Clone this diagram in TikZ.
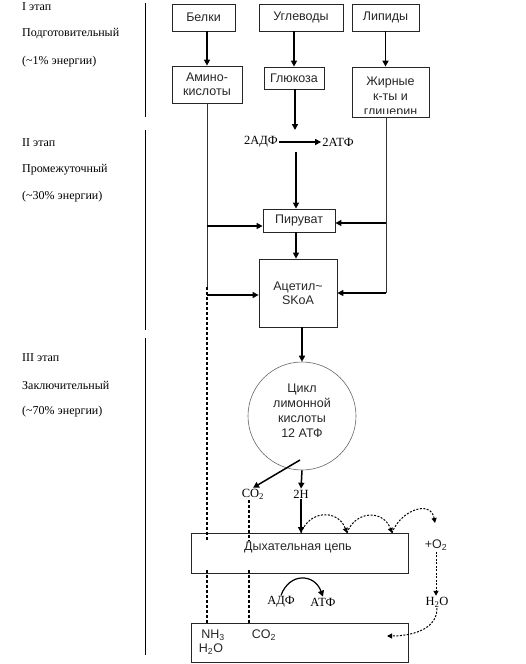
\documentclass[tikz,border=0pt]{standalone}
\usepackage{fontspec}
\setmainfont{Liberation Serif}
\setsansfont{Liberation Sans}
\usetikzlibrary{arrows.meta}

\begin{document}
\begin{tikzpicture}[x=1pt, y=1pt,
    box/.style={rectangle, draw=black!85, line width=0.8pt, inner sep=0pt},
    sans/.style={font=\sffamily\fontsize{12.5}{14}\selectfont, text=black!85, align=center, inner sep=1pt},
    stage/.style={anchor=west, font=\fontsize{12}{14}\selectfont, inner sep=0pt},
    chem/.style={font=\fontsize{12.5}{14}\selectfont, inner sep=1pt},
    arr/.style={-{Triangle[length=6pt,width=6pt]}, line width=1.5pt},
    link/.style={line width=0.6pt, black!80},
    dots/.style={dash pattern=on 3pt off 2pt, line width=1.2pt},
    hop/.style={-{Triangle[length=5pt,width=5pt]}, dash pattern=on 2pt off 1.5pt, line width=1pt}]

    \useasboundingbox (0,0) rectangle (526,-664);

    \node(stage1-1)[stage] at (22,-7) {I этап};
    \node(stage1-2)[stage] at (22,-34) {Подготовительный};
    \node(stage1-3)[stage] at (22,-62) {(\textasciitilde1\% энергии)};
    \node(stage2-1)[stage] at (22,-143) {II этап};
    \node(stage2-2)[stage] at (22,-170) {Промежуточный};
    \node(stage2-3)[stage] at (22,-197) {(\textasciitilde30\% энергии)};
    \node(stage3-1)[stage] at (22,-358) {III этап};
    \node(stage3-2)[stage] at (22,-385) {Заключительный};
    \node(stage3-3)[stage] at (22,-412) {(\textasciitilde70\% энергии)};

    \draw[line width=0.9pt] (145,-3) -- (145,-117);
    \draw[line width=0.9pt] (145,-130) -- (145,-330);
    \draw[line width=0.9pt] (145,-338) -- (145,-655);

    \node(belki)[box, sans, minimum width=63, minimum height=27] at (203.5,-17.5) {Белки};
    \node(uglevody)[box, sans, minimum width=84, minimum height=27] at (301,-17.5) {Углеводы};
    \node(lipidy)[box, sans, minimum width=67, minimum height=27] at (385.5,-17.5) {Липиды};

    \node(amino)[box, sans, minimum width=70, minimum height=37] at (207,-84.5) {Амино-\\кислоты};
    \node(glukoza)[box, sans, minimum width=60, minimum height=22] at (294,-78) {Глюкоза};
    \node(zhirnye)[box, minimum width=77, minimum height=50,
        path picture={\clip ([yshift=4]path picture bounding box.south west) rectangle (path picture bounding box.north east);
            \node[sans, font=\sffamily\fontsize{12.5}{15}\selectfont] at ([yshift=-5]path picture bounding box.center) {Жирные\\к-ты и\\глицерин};}]
        at (390.5,-92) {};

    \node(adf2)[chem] at (261,-142) {2АДФ};
    \node(atf2)[chem] at (338,-142) {2АТФ};

    \node(piruvat)[box, sans, minimum width=72, minimum height=23] at (299,-220.5) {Пируват};
    \node(acetil)[box, sans, minimum width=78, minimum height=68] at (298,-293) {Ацетил\textasciitilde\\SKoA};

    \node(cikl)[circle, draw=black!60, line width=0.6pt, minimum size=108] at (302,-416) {};
    \node(cikl-txt)[sans, font=\sffamily\fontsize{12.5}{15}\selectfont] at (302,-410.5) {Цикл\\лимонной\\кислоты\\12 АТФ};

    \node(co2)[chem] at (253,-494) {CO\textsubscript{2}};
    \node(h2)[chem] at (301,-494) {2H};

    \node(dc)[box, minimum width=217, minimum height=40] at (299.5,-553) {};
    \node(dc-txt)[sans] at (298,-547) {Дыхательная цепь};
    \node(o2)[sans] at (436,-545) {+O\textsubscript{2}};
    \node(h2o)[chem] at (437,-602) {H\textsubscript{2}O};
    \node(adf)[chem] at (281,-602) {АДФ};
    \node(atf)[chem] at (323,-602) {АТФ};

    \node(bot)[box, minimum width=217, minimum height=39] at (299.5,-642.5) {};
    \node(nh3)[sans] at (213,-635) {NH\textsubscript{3}};
    \node(h2o-b)[sans] at (211,-649) {H\textsubscript{2}O};
    \node(co2-b)[sans] at (264,-635) {CO\textsubscript{2}};

    \coordinate(glik-in) at (295,-130);
    \coordinate(glik-out) at (296,-152);
    \coordinate(amino-end) at (207,-287);
    \coordinate(zh-end) at (386,-293);
    \coordinate(piruvat-l) at ([yshift=-5.5]piruvat.west);
    \coordinate(piruvat-r) at ([yshift=-2.5]piruvat.east);
    \coordinate(acetil-l) at ([yshift=-2]acetil.west);
    \coordinate(cikl-out) at (300,-460);
    \coordinate(hop-1) at (301,-533);
    \coordinate(hop-2) at (347,-533);
    \coordinate(hop-3) at (392,-533);
    \coordinate(hop-4) at (435,-523);
    \coordinate(bot-in) at (387,-636);
    \coordinate(nh3-a) at (207,-541);
    \coordinate(nh3-b) at (207,-570);
    \coordinate(co2-a) at (249,-541);
    \coordinate(co2-b) at (249,-570);

    \draw[arr] (belki.south -| amino.north) -- (amino.north);
    \draw[arr] (uglevody.south -| glukoza.north) -- (glukoza.north);
    \draw[arr] (lipidy.south) -- (lipidy.south |- zhirnye.north);

    \draw[arr] (glukoza.south -| glik-in) -- (glik-in);
    \draw[arr, line width=1.2pt] (adf2) -- (atf2);
    \draw[arr] (glik-out) -- (glik-out |- piruvat.north);

    \draw[link] (amino.south) -- (amino-end);
    \draw[arr] (piruvat-l -| amino-end) -- (piruvat-l);
    \draw[arr, line width=1.2pt] (acetil-l -| amino-end) -- (acetil-l);
    \draw[link] (zhirnye.south -| zh-end) -- (zh-end);
    \draw[arr] (piruvat-r -| zh-end) -- (piruvat-r);
    \draw[arr] (zh-end) -- (acetil.east);

    \draw[arr, line width=1.2pt] (piruvat.south -| glik-out) -- (glik-out |- acetil.north);
    \draw[arr] (acetil.south -| cikl.north) -- (cikl.north);
    \draw[arr] (cikl-out) -- (co2.north);
    \draw[arr] (cikl.south) -- (h2.north);
    \draw[arr] (h2.south) -- (hop-1);

    \draw[hop] (hop-1) to[out=70, in=110, looseness=1.4] (hop-2);
    \draw[hop] (hop-2) to[out=70, in=110, looseness=1.4] (hop-3);
    \draw[hop] (hop-3) to[out=70, in=100, looseness=1.4] (hop-4);
    \draw[hop] (o2.south) -- (o2.south |- h2o.north);
    \draw[hop] (h2o.south) to[out=-90, in=0] (bot-in);
    \draw[arr, line width=1.2pt] (adf.north) to[out=70, in=110, looseness=1.5] (atf.north);

    \draw[dots] (amino-end) -- (nh3-a);
    \draw[dots] (nh3-b) -- (nh3-b |- bot.north);
    \draw[dots] (co2.south -| co2-a) -- (co2-a);
    \draw[dots] (co2-b) -- (co2-b |- bot.north);
\end{tikzpicture}
\end{document}
